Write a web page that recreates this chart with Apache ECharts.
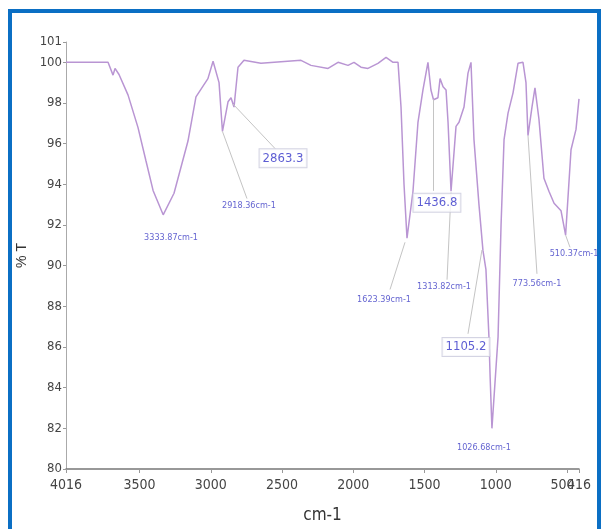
<!DOCTYPE html>
<html>
<head>
<meta charset="utf-8">
<script src="https://cdn.jsdelivr.net/npm/echarts@6/dist/echarts.min.js"></script>
<style>
html,body{margin:0;padding:0;background:#fff;}
#c{width:601px;height:529px;}
</style>
</head>
<body>
<div id="c"></div>
<script>
// Spectrum: [wavenumber (cm-1), %T]
const wavenumbers = [4016,3721,3686,3672,3644,3581,3511,3455,3405,3334,3258,3160,3104,3020,2984,2942,2918,2879,2858,2837,2809,2767,2648,2367,2297,2177,2107,2037,1995,1946,1897,1827,1770,1721,1686,1665,1644,1623,1581,1546,1511,1476,1455,1437,1406,1391,1370,1349,1335,1314,1279,1258,1223,1195,1174,1153,1118,1090,1069,1048,1040,1027,984,963,942,914,879,844,809,788,774,746,725,697,662,627,591,542,510,472,437,416];
const transmittance = [100,100,99.37,99.7,99.4,98.4,96.8,95.16,93.7,92.5,93.56,96.13,98.3,99.2,100.05,99.0,96.6,98.06,98.26,97.8,99.76,100.1,99.95,100.1,99.85,99.7,100,99.85,100,99.76,99.7,99.95,100.24,100,100,97.8,94.0,91.35,93.66,97.05,98.64,100,98.64,98.16,98.26,99.2,98.8,98.64,97.05,93.66,96.85,97.05,97.8,99.47,100,96.2,93.0,90.75,89.8,86.5,84.6,82.0,86.5,92.0,96.2,97.5,98.5,99.95,100,99.0,96.4,97.8,98.74,97.2,94.3,93.66,93.07,92.7,91.5,95.7,96.7,98.2];

const xTicks = [4016,3500,3000,2500,2000,1500,1000,500,416];
const xTicksMain = [4016,3500,3000,2500,2000,1500,1000,416];
const xTicksExtra = [500];
const yTicks = [80,82,84,86,88,90,92,94,96,98,100,101];

// Peak annotations
const annTexts  = ['3333.87cm-1','2918.36cm-1','2863.3','1623.39cm-1','1436.8','1313.82cm-1','1105.2','1026.68cm-1','773.56cm-1','510.37cm-1'];
const annBoxed  = [false,false,true,false,true,false,true,false,false,false];
const annLabelX = [3279,2732,2493,1784,1413,1363,1209,1083,711,451];
const annLabelY = [91.4,92.95,95.28,88.34,93.1,88.97,86.0,81.07,89.12,90.57];
// leader lines: from [x1,y1] to [x2,y2]
const leadFromX = [null,2918,2844,1637,1437,1314,1097,null,774,510];
const leadFromY = [null,96.6,97.95,91.15,98.19,93.6,90.77,null,96.4,91.5];
const leadToX   = [null,2746,2549,1742,1437,1342,1195,null,711,479];
const leadToY   = [null,93.3,95.76,88.83,93.68,89.31,86.65,null,89.6,90.9];

const chart = echarts.init(document.getElementById('c'), null, {renderer:'canvas'});

const fontNarrow = '"Liberation Sans Narrow","DejaVu Sans Condensed",sans-serif';

const lineData = wavenumbers.map((w,i)=>[w, transmittance[i]]);
const leaderData = [];
for (let i=0;i<annTexts.length;i++){
  if (leadFromX[i]!==null){
    leaderData.push([{coord:[leadFromX[i],leadFromY[i]]},{coord:[leadToX[i],leadToY[i]]}]);
  }
}
const labelData = annTexts.map((t,i)=>({
  value:[annLabelX[i], annLabelY[i]],
  name:t,
  label: annBoxed[i] ? {
    show:true, position:'inside', formatter:t,
    fontFamily:fontNarrow, fontSize:13, color:'#3434c8',
    borderColor:'#c9c9dc', borderWidth:1, padding:[3,3,2,3], backgroundColor:'#fff'
  } : {
    show:true, position:'inside', formatter:t,
    fontFamily:fontNarrow, fontSize:9, color:'#3b3bc4'
  }
}));

const xLabelStyle = {fontFamily:fontNarrow, fontSize:14, color:'#444'};

chart.setOption({
  animation:false,
  backgroundColor:'#fff',
  grid:{left:66, right:22, top:42, bottom:54, containLabel:false},
  xAxis:[{
    type:'value', inverse:true, min:416, max:4016, position:'bottom',
    name:'cm-1', nameLocation:'middle', nameGap:38,
    nameTextStyle:{fontFamily:fontNarrow, fontSize:17, color:'#333'},
    axisLine:{show:true, lineStyle:{color:'#777', width:1.5}},
    axisTick:{show:true, length:4, customValues:xTicks, lineStyle:{color:'#999'}},
    axisLabel:Object.assign({customValues:xTicksMain, hideOverlap:false, showMinLabel:true, showMaxLabel:true,
      formatter:(v)=>String(v), margin:9}, xLabelStyle),
    splitLine:{show:false}
  },{
    type:'value', inverse:true, min:416, max:4016, position:'bottom', offset:0,
    axisLine:{show:false}, axisTick:{show:false},
    axisLabel:Object.assign({customValues:xTicksExtra, hideOverlap:false,
      formatter:(v)=>String(v), margin:9, padding:[0,9,0,0]}, xLabelStyle),
    splitLine:{show:false}
  }],
  yAxis:{
    type:'value', min:80, max:101,
    name:'% T', nameLocation:'middle', nameGap:33, nameRotate:90,
    nameTextStyle:{fontFamily:'"Liberation Sans",Arial,sans-serif', fontSize:14, color:'#333'},
    axisLine:{show:true, lineStyle:{color:'#aaa', width:1}},
    axisTick:{show:true, length:3, customValues:yTicks, lineStyle:{color:'#999'}},
    axisLabel:{customValues:yTicks, hideOverlap:false, showMinLabel:true, showMaxLabel:true,
      formatter:(v)=>String(v), margin:4, fontFamily:fontNarrow, fontSize:13, color:'#444'},
    splitLine:{show:false}
  },
  series:[
    {
      type:'line', data:lineData, symbol:'none', smooth:false,
      lineStyle:{color:'#b995d3', width:1.5}, z:3,
      markLine:{
        silent:true, symbol:['none','none'], label:{show:false},
        lineStyle:{color:'#c4c4c4', width:1, type:'solid'},
        data:leaderData
      }
    },
    {
      type:'scatter', data:labelData, symbolSize:0, z:5, silent:true
    }
  ],
  graphic:[
    {type:'rect', shape:{x:8,y:9,width:593,height:4}, style:{fill:'#0b6fc4'}, silent:true},
    {type:'rect', shape:{x:8,y:9,width:4,height:520}, style:{fill:'#0b6fc4'}, silent:true},
    {type:'rect', shape:{x:597,y:9,width:4,height:520}, style:{fill:'#0b6fc4'}, silent:true}
  ]
});
</script>
</body>
</html>
